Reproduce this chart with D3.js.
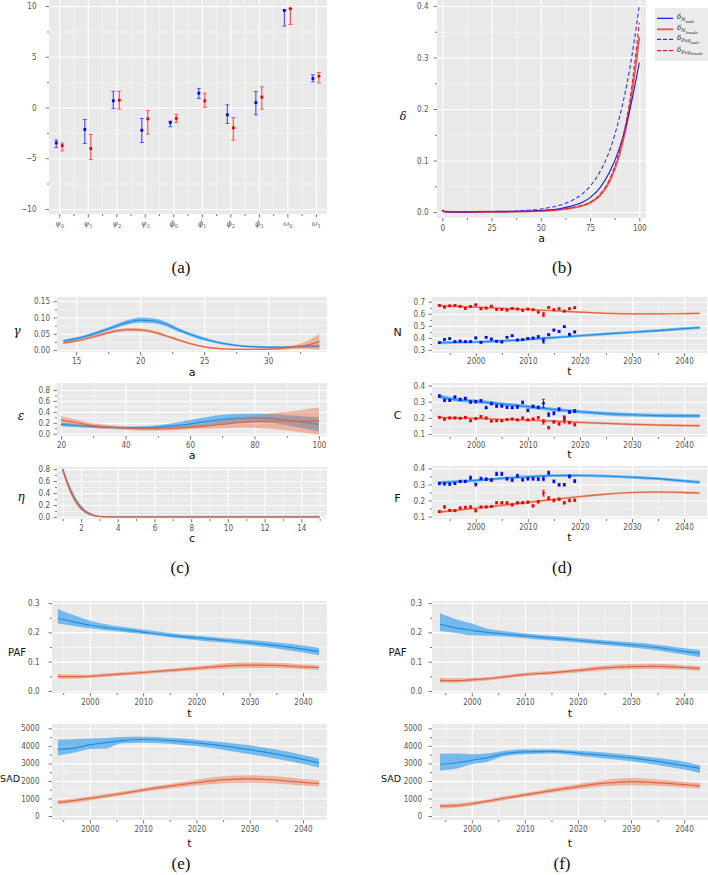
<!DOCTYPE html>
<html><head><meta charset="utf-8">
<script src="https://cdn.jsdelivr.net/npm/d3@7"></script>
<style>body{margin:0;background:#fff;}svg{display:block;font-family:"DejaVu Sans",sans-serif;}</style>
</head><body><svg id="c" width="708" height="875"></svg>
<script>
// ---------- (a) parameter estimates ----------
const aLetters = ['ψ','ψ','ψ','ψ','ϕ','ϕ','ϕ','ϕ','ω','ω'];
const aSubs    = ['0','1','2','3','0','1','2','3','0','1'];
const aBlueMean = [-3.49,-2.17,0.66,-2.24,-1.48,1.41,-0.72,0.49,9.57,2.86];
const aBlueLo   = [-3.95,-3.55,-0.10,-3.45,-1.90,0.89,-1.58,-0.72,8.03,2.53];
const aBlueHi   = [-3.20,-1.18,1.60,-1.09,-1.35,1.88,0.26,1.58,9.60,3.22];
const aRedMean  = [-3.75,-4.05,0.72,-1.12,-1.08,0.66,-2.00,1.02,9.74,3.09];
const aRedLo    = [-4.28,-5.13,-0.16,-2.63,-1.48,0.03,-3.22,-0.16,8.19,2.43];
const aRedHi    = [-3.50,-2.66,1.60,-0.30,-0.69,1.41,-0.99,2.04,9.74,3.45];

// ---------- (b) death rates ----------
const bAges = [0,1,5,10,15,20,25,30,35,40,45,50,55,60,65,70,75,80,85,90,95,100];
const bNmale   = [0.003,0.0008,0.0003,0.0002,0.0003,0.0005,0.0006,0.0008,0.001,0.0014,0.002,0.003,0.0045,0.007,0.011,0.017,0.028,0.047,0.078,0.125,0.195,0.29];
const bNfemale = [0.004,0.001,0.0002,0.0001,0.0002,0.0003,0.0003,0.0004,0.0006,0.0009,0.0013,0.002,0.003,0.0047,0.0075,0.011,0.018,0.032,0.06,0.112,0.2,0.34];
const bPopMale = [0.003,0.0008,0.0003,0.0003,0.0005,0.0008,0.001,0.0013,0.0018,0.0026,0.0038,0.0058,0.009,0.0135,0.021,0.032,0.05,0.078,0.12,0.185,0.275,0.40];
const bPopFemale=[0.004,0.001,0.0002,0.0001,0.0002,0.0003,0.0004,0.0005,0.0007,0.001,0.0015,0.0022,0.0034,0.0052,0.008,0.012,0.019,0.034,0.064,0.12,0.212,0.368];

// ---------- (c) gamma, epsilon, eta ----------
const gAges = [14,15,16,17,18,19,20,21,22,23,24,25,26,27,28,29,30,31,32,33,34];
const gMale   = [0.028,0.035,0.045,0.058,0.072,0.085,0.092,0.09,0.08,0.062,0.047,0.034,0.024,0.017,0.012,0.01,0.009,0.009,0.01,0.011,0.012];
const gMaleHw = [0.004,0.004,0.005,0.005,0.006,0.007,0.008,0.008,0.007,0.006,0.005,0.005,0.004,0.004,0.003,0.003,0.003,0.003,0.003,0.004,0.005];
const gFemale = [0.022,0.028,0.037,0.048,0.058,0.063,0.062,0.056,0.044,0.031,0.019,0.01,0.005,0.003,0.002,0.002,0.003,0.005,0.009,0.015,0.026];
const gFemaleHw=[0.004,0.004,0.004,0.005,0.005,0.005,0.005,0.005,0.004,0.004,0.003,0.003,0.002,0.002,0.002,0.002,0.003,0.004,0.006,0.012,0.025];
const eAges = [20,25,30,35,40,45,50,55,60,65,70,75,80,85,90,95,100];
const eMale   = [0.17,0.15,0.13,0.115,0.11,0.11,0.12,0.145,0.18,0.22,0.26,0.28,0.29,0.28,0.25,0.21,0.17];
const eMaleHw = [0.035,0.03,0.025,0.022,0.02,0.025,0.035,0.05,0.07,0.08,0.085,0.08,0.075,0.08,0.09,0.11,0.13];
const eFemale = [0.25,0.2,0.15,0.12,0.1,0.09,0.09,0.1,0.12,0.14,0.17,0.2,0.22,0.23,0.23,0.23,0.23];
const eFemaleHw=[0.07,0.055,0.04,0.035,0.03,0.03,0.03,0.035,0.04,0.05,0.07,0.09,0.11,0.14,0.17,0.21,0.25];
const hC = [1,1.25,1.5,1.75,2,2.25,2.5,2.75,3,3.5,4,6,8,10,12,14,15];
const hMale   = [0.8,0.58,0.4,0.26,0.16,0.09,0.05,0.022,0.008,0.002,0,0,0,0,0,0,0];
const hFemale = [0.79,0.56,0.38,0.24,0.145,0.08,0.042,0.018,0.006,0.001,0,0,0,0,0,0,0];
const hHw     = [0.04,0.045,0.045,0.04,0.035,0.025,0.018,0.01,0.005,0.002,0.001,0.001,0.001,0.001,0.001,0.001,0.001];

// ---------- (d) N, C, F ----------
const dYears = [1993,1994,1995,1996,1997,1998,1999,2000,2001,2002,2003,2004,2005,2006,2007,2008,2009,2010,2011,2012,2013,2014,2015,2016,2017,2018,2019];
const dNblue = [0.36,0.388,0.394,0.369,0.374,0.369,0.369,0.40,0.363,0.405,0.391,0.372,0.366,0.405,0.418,0.383,0.385,0.396,0.399,0.41,0.377,0.427,0.465,0.454,0.493,0.43,0.449];
const dNred  = [0.669,0.655,0.666,0.669,0.661,0.644,0.661,0.674,0.641,0.647,0.663,0.636,0.636,0.63,0.644,0.639,0.628,0.639,0.633,0.614,0.594,0.652,0.633,0.641,0.622,0.641,0.65];
const dCblue = [0.335,0.308,0.308,0.329,0.314,0.321,0.298,0.30,0.306,0.263,0.288,0.273,0.273,0.265,0.263,0.267,0.296,0.246,0.271,0.265,0.29,0.22,0.228,0.253,0.20,0.236,0.242];
const dCred  = [0.203,0.191,0.199,0.199,0.197,0.203,0.182,0.195,0.207,0.199,0.18,0.182,0.182,0.189,0.193,0.187,0.199,0.187,0.193,0.201,0.176,0.139,0.174,0.162,0.187,0.17,0.157];
const dFblue = [0.306,0.304,0.302,0.306,0.319,0.319,0.342,0.30,0.337,0.333,0.327,0.366,0.366,0.335,0.327,0.354,0.329,0.335,0.335,0.333,0.335,0.373,0.319,0.298,0.298,0.35,0.321];
const dFred  = [0.131,0.16,0.139,0.137,0.154,0.158,0.16,0.137,0.16,0.16,0.163,0.186,0.186,0.186,0.173,0.186,0.186,0.19,0.167,0.192,0.246,0.214,0.2,0.208,0.186,0.20,0.202];
const dErrNblue = [.006,.007,.007,.006,.006,.006,.006,.007,.006,.007,.007,.006,.006,.007,.007,.007,.007,.007,.007,.008,.02,.008,.008,.008,.007,.008,.008];
const dErrNred  = [.007,.007,.006,.006,.006,.006,.006,.007,.006,.007,.007,.006,.006,.006,.007,.007,.007,.007,.007,.008,.018,.008,.008,.008,.007,.008,.008];
const dErrCblue = [.008,.008,.007,.007,.008,.007,.008,.008,.008,.008,.008,.008,.007,.007,.007,.008,.008,.008,.008,.008,.025,.012,.01,.01,.012,.009,.009];
const dErrCred  = [.006,.006,.006,.006,.006,.006,.006,.006,.007,.006,.006,.006,.006,.006,.006,.006,.006,.006,.006,.007,.015,.008,.007,.008,.02,.008,.008];
const dErrFblue = [.008,.008,.007,.007,.007,.007,.01,.009,.008,.008,.008,.01,.01,.008,.008,.009,.008,.008,.008,.008,.012,.01,.009,.008,.008,.009,.009];
const dErrFred  = [.006,.008,.006,.006,.006,.006,.007,.008,.006,.006,.006,.007,.007,.007,.007,.007,.007,.007,.007,.008,.018,.01,.008,.008,.008,.008,.008];
const dFitYears = [1993,1995,2000,2005,2010,2015,2020,2025,2030,2035,2040,2043];
const dFitNblue = [0.36,0.362,0.366,0.375,0.388,0.402,0.418,0.433,0.447,0.46,0.477,0.485];
const dFitNred  = [0.666,0.663,0.655,0.645,0.636,0.625,0.613,0.604,0.60,0.599,0.601,0.603];
const dFitCblue = [0.335,0.318,0.302,0.286,0.269,0.252,0.238,0.226,0.219,0.214,0.212,0.212];
const dFitCred  = [0.202,0.20,0.196,0.191,0.186,0.18,0.172,0.165,0.159,0.155,0.152,0.151];
const dFitFblue = [0.31,0.315,0.325,0.338,0.348,0.355,0.356,0.352,0.345,0.336,0.322,0.314];
const dFitFred  = [0.128,0.135,0.152,0.17,0.188,0.207,0.225,0.24,0.25,0.253,0.25,0.247];
const dFitBlueHw = [0.013,0.012,0.011,0.011,0.011,0.011,0.011,0.011,0.011,0.011,0.012,0.012];
const dFitRedHw  = [0.008,0.008,0.007,0.007,0.007,0.007,0.007,0.007,0.007,0.007,0.008,0.008];

// ---------- (e), (f) PAF and SAD ----------
const pYears = [1994,1997,2000,2003,2006,2010,2015,2020,2025,2030,2035,2040,2043];
const ePAFblue   = [0.248,0.236,0.225,0.216,0.21,0.201,0.19,0.181,0.173,0.165,0.155,0.143,0.135];
const ePAFblueLo = [0.23,0.222,0.214,0.207,0.202,0.194,0.183,0.173,0.165,0.156,0.145,0.131,0.122];
const ePAFblueHi = [0.28,0.258,0.24,0.228,0.219,0.21,0.198,0.189,0.181,0.174,0.165,0.155,0.147];
const ePAFred    = [0.05,0.049,0.05,0.054,0.058,0.063,0.07,0.077,0.085,0.088,0.087,0.082,0.08];
const ePAFredLo  = [0.042,0.042,0.044,0.048,0.052,0.057,0.064,0.07,0.076,0.078,0.078,0.074,0.072];
const ePAFredHi  = [0.058,0.056,0.056,0.06,0.064,0.069,0.076,0.084,0.094,0.098,0.096,0.09,0.088];
const eSADblue   = [3800,3870,4050,4180,4300,4360,4300,4170,4000,3780,3530,3230,3030];
const eSADblueLo = [3450,3600,3820,3850,4150,4180,4120,3970,3780,3520,3260,2960,2750];
const eSADblueHi = [4350,4380,4420,4440,4500,4520,4460,4350,4200,4030,3790,3480,3270];
const eSADred    = [780,880,1000,1140,1280,1480,1700,1900,2060,2120,2050,1920,1850];
const eSADredLo  = [650,760,890,1030,1170,1370,1570,1740,1870,1900,1850,1740,1680];
const eSADredHi  = [900,1000,1110,1250,1390,1600,1830,2070,2260,2330,2260,2110,2040];
const fPAFblue   = [0.228,0.215,0.207,0.2,0.195,0.188,0.18,0.173,0.165,0.157,0.148,0.135,0.128];
const fPAFblueLo = [0.205,0.198,0.19,0.188,0.186,0.18,0.172,0.165,0.157,0.148,0.138,0.124,0.115];
const fPAFblueHi = [0.265,0.245,0.23,0.212,0.205,0.197,0.188,0.181,0.173,0.166,0.158,0.146,0.14];
const fPAFred    = [0.036,0.035,0.038,0.042,0.048,0.056,0.062,0.07,0.079,0.083,0.084,0.08,0.077];
const fPAFredLo  = [0.028,0.028,0.031,0.036,0.042,0.05,0.056,0.063,0.071,0.074,0.075,0.072,0.069];
const fPAFredHi  = [0.045,0.043,0.045,0.048,0.054,0.062,0.068,0.077,0.087,0.092,0.093,0.088,0.085];
const fSADblue   = [2950,3020,3180,3330,3540,3660,3690,3590,3450,3310,3110,2870,2720];
const fSADblueLo = [2600,2700,2950,3100,3400,3520,3560,3440,3280,3120,2910,2650,2450];
const fSADblueHi = [3550,3560,3520,3560,3700,3800,3800,3720,3620,3480,3300,3090,2900];
const fSADred    = [560,590,700,850,1010,1200,1450,1680,1870,1960,1900,1790,1720];
const fSADredLo  = [430,470,590,740,900,1090,1320,1530,1700,1760,1720,1630,1570];
const fSADredHi  = [680,710,810,960,1120,1310,1580,1830,2040,2160,2080,1950,1880];

// ---------- tick values ----------
const tYearMaj = [2000,2010,2020,2030,2040], tYearMin = [1995,2005,2015,2025,2035];

// ---------- drawing ----------
const BG = '#E9E9E9', TK = '#555';
const BL = '#1f8fe5', BF = 'rgba(45,155,235,0.62)', RL = '#e2643f', RF = 'rgba(232,112,72,0.45)';
const TICKFONT = '"DejaVu Sans Condensed", "DejaVu Sans", sans-serif';
const svg = d3.select('#c');
let cid = 0;

function styleAxis(s, fs) {
  s.select('.domain').remove();
  s.selectAll('.tick line').attr('stroke', TK).attr('stroke-width', 0.8);
  s.selectAll('.tick text').attr('fill', TK).attr('font-size', fs || 8).attr('font-family', TICKFONT).attr('font-stretch', 'condensed');
}

function panel(b, xd, yd, o) {
  const x = d3.scaleLinear().domain(xd).range([b.x0, b.x1]);
  const y = d3.scaleLinear().domain(yd).range([b.y1, b.y0]);
  const W = b.x1 - b.x0, H = b.y1 - b.y0;
  const g = svg.append('g');
  g.append('rect').attr('x', b.x0).attr('y', b.y0).attr('width', W).attr('height', H).attr('fill', BG);
  const grid = (axis, tr, w, op) => g.append('g').attr('transform', tr).call(axis).call(s => {
    s.select('.domain').remove();
    s.selectAll('.tick line').attr('stroke', '#fff').attr('stroke-width', w).attr('stroke-opacity', op);
  });
  grid(d3.axisBottom(x).tickValues(o.xmin).tickSize(-H).tickFormat(''), `translate(0,${b.y1})`, 0.6, 0.75);
  grid(d3.axisLeft(y).tickValues(o.ymin).tickSize(-W).tickFormat(''), `translate(${b.x0},0)`, 0.6, 0.75);
  grid(d3.axisBottom(x).tickValues(o.xmaj).tickSize(-H).tickFormat(''), `translate(0,${b.y1})`, 1.1, 1);
  grid(d3.axisLeft(y).tickValues(o.ymaj).tickSize(-W).tickFormat(''), `translate(${b.x0},0)`, 1.1, 1);
  g.append('g').attr('transform', `translate(0,${b.y1})`).call(d3.axisBottom(x).tickValues(o.xmin).tickSize(2).tickFormat('')).call(s => styleAxis(s));
  g.append('g').attr('transform', `translate(${b.x0},0)`).call(d3.axisLeft(y).tickValues(o.ymin).tickSize(2).tickFormat('')).call(s => styleAxis(s));
  const xa = g.append('g').attr('transform', `translate(0,${b.y1})`)
    .call(d3.axisBottom(x).tickValues(o.xmaj).tickSize(3.5).tickPadding(o.xpad ?? 2.8).tickFormat(o.xf)).call(s => styleAxis(s));
  g.append('g').attr('transform', `translate(${b.x0},0)`)
    .call(d3.axisLeft(y).tickValues(o.ymaj).tickSize(3.5).tickPadding(o.ypad ?? 3.5).tickFormat(o.yf)).call(s => styleAxis(s));
  const id = 'clip' + (cid++);
  svg.append('clipPath').attr('id', id).append('rect').attr('x', b.x0).attr('y', b.y0).attr('width', W).attr('height', H);
  const pg = svg.append('g').attr('clip-path', `url(#${id})`);
  return { x, y, g, pg, xa, b };
}

function label(txt, x, y, o = {}) {
  svg.append('text').attr('x', x).attr('y', y).attr('text-anchor', 'middle')
    .attr('font-size', o.fs || 10).attr('fill', o.fill || '#111')
    .attr('font-family', o.ff || '"DejaVu Sans", sans-serif')
    .attr('font-style', o.it ? 'italic' : 'normal').text(txt);
}

function band(p, xs, lo, hi, fill) {
  const area = d3.area().x((d, i) => p.x(xs[i])).y0((d, i) => p.y(lo[i])).y1((d, i) => p.y(hi[i])).curve(d3.curveMonotoneX);
  p.pg.append('path').datum(xs).attr('d', area).attr('fill', fill).attr('stroke', 'none');
}
function line(p, xs, ys, stroke, w, dash) {
  const ln = d3.line().x((d, i) => p.x(xs[i])).y((d, i) => p.y(ys[i])).curve(d3.curveMonotoneX);
  p.pg.append('path').datum(xs).attr('d', ln).attr('fill', 'none').attr('stroke', stroke)
    .attr('stroke-width', w || 1.2).attr('stroke-dasharray', dash || null);
}
function bandHw(p, xs, m, hw, fill, stroke) {
  band(p, xs, m.map((v, i) => v - hw[i]), m.map((v, i) => v + hw[i]), fill);
  line(p, xs, m, stroke, 1.2);
}
function errPoints(p, xs, ys, es, color, cap) {
  const g = p.pg.append('g');
  xs.forEach((xv, i) => {
    const cx = p.x(xv);
    const y0 = p.y(ys[i] - es[i]), y1 = p.y(ys[i] + es[i]);
    g.append('line').attr('x1', cx).attr('x2', cx).attr('y1', y0).attr('y2', y1).attr('stroke', color).attr('stroke-width', 0.9);
    g.append('line').attr('x1', cx - cap).attr('x2', cx + cap).attr('y1', y0).attr('y2', y0).attr('stroke', color).attr('stroke-width', 0.7);
    g.append('line').attr('x1', cx - cap).attr('x2', cx + cap).attr('y1', y1).attr('y2', y1).attr('stroke', color).attr('stroke-width', 0.7);
    g.append('rect').attr('x', cx - 1.3).attr('y', p.y(ys[i]) - 1.3).attr('width', 2.6).attr('height', 2.6).attr('fill', color);
  });
}

// ===== (a) =====
{
  const idx = d3.range(aLetters.length);
  const p = panel({ x0: 49, x1: 327, y0: 0, y1: 214 }, [-0.36, 9.39], [-10.5, 10.6], {
    xmaj: idx, xmin: idx.slice(0, 9).map(i => i + 0.5),
    ymaj: [-10, -5, 0, 5, 10], ymin: [-7.5, -2.5, 2.5, 7.5],
    xf: () => '', yf: d3.format('d'), ypad: 9
  });
  p.xa.selectAll('.tick text').each(function (d) {
    const t = d3.select(this).attr('font-size', 8).attr('font-style', 'italic').attr('font-family', '"DejaVu Serif", serif').attr('fill', TK);
    t.text(aLetters[d]);
    t.append('tspan').attr('dy', 2.5).attr('font-size', 5.5).attr('font-style', 'normal').text(aSubs[d]);
  });
  const g = p.pg.append('g');
  const drawSet = (mean, lo, hi, off, col, barCol) => {
    idx.forEach(i => {
      const cx = p.x(i + off);
      g.append('line').attr('x1', cx).attr('x2', cx).attr('y1', p.y(lo[i])).attr('y2', p.y(hi[i])).attr('stroke', barCol).attr('stroke-width', 1.1);
      [lo[i], hi[i]].forEach(v => g.append('line').attr('x1', cx - 2).attr('x2', cx + 2).attr('y1', p.y(v)).attr('y2', p.y(v)).attr('stroke', barCol).attr('stroke-width', 0.9));
      g.append('rect').attr('x', cx - 1.4).attr('y', p.y(mean[i]) - 1.4).attr('width', 2.8).attr('height', 2.8).attr('fill', col);
    });
  };
  drawSet(aBlueMean, aBlueLo, aBlueHi, -0.105, '#0000ee', '#4a4af0');
  drawSet(aRedMean, aRedLo, aRedHi, 0.105, '#ee0000', '#f05050');
}

// ===== (b) =====
{
  const p = panel({ x0: 437, x1: 646, y0: 0, y1: 218 }, [-2.7, 103.4], [-0.0116, 0.4116], {
    xmaj: [0, 25, 50, 75, 100], xmin: [12.5, 37.5, 62.5, 87.5],
    ymaj: [0, 0.1, 0.2, 0.3, 0.4], ymin: [0.05, 0.15, 0.25, 0.35],
    xf: d3.format('d'), yf: d3.format('.1f'), ypad: 5, xpad: 3.5
  });
  line(p, bAges, bNfemale, '#e06060', 2);
  line(p, bAges, bNmale, '#1515f0', 1.1);
  line(p, bAges, bPopMale, '#3030ff', 1.1, '4,2.5');
  line(p, bAges, bPopFemale, '#ff1515', 1.1, '4,2.5');
  label('a', 541.5, 242, { fs: 11 });
  label('δ', 403, 120, { fs: 11, it: true, ff: '"DejaVu Serif", serif' });
  // legend
  const lg = svg.append('g');
  lg.append('rect').attr('x', 655).attr('y', 8).attr('width', 53).attr('height', 53).attr('fill', '#EBEBEB');
  const ents = [['N', 'male', '#1515f0', 1.2, null], ['N', 'female', '#e06060', 2, null], ['Pop', 'male', '#3030ff', 1.2, '4,2'], ['Pop', 'female', '#ff1515', 1.2, '4,2']];
  const ly = [18.3, 29.3, 39.3, 50.7];
  ents.forEach((e, i) => {
    lg.append('line').attr('x1', 657).attr('x2', 673).attr('y1', ly[i]).attr('y2', ly[i]).attr('stroke', e[2]).attr('stroke-width', e[3]).attr('stroke-dasharray', e[4]);
    const t = lg.append('text').attr('x', 677).attr('y', ly[i] + 1).attr('font-size', 7).attr('fill', '#222')
      .attr('font-family', '"DejaVu Serif", serif').attr('font-style', 'italic').text('δ');
    t.append('tspan').attr('dy', 2).attr('font-size', 5).text(e[0]);
    t.append('tspan').attr('dy', 1.5).attr('font-size', 3.6).attr('font-style', 'normal').text(e[1]);
  });
}

// ===== (c) =====
{
  const p1 = panel({ x0: 57, x1: 327, y0: 297, y1: 352 }, [13.5, 34.6], [-0.006, 0.163], {
    xmaj: [15, 20, 25, 30], xmin: [17.5, 22.5, 27.5, 32.5],
    ymaj: [0, 0.05, 0.1, 0.15], ymin: [0.025, 0.075, 0.125],
    xf: d3.format('d'), yf: d3.format('.2f')
  });
  bandHw(p1, gAges, gMale, gMaleHw, BF, BL);
  bandHw(p1, gAges, gFemale, gFemaleHw, RF, RL);
  label('a', 192, 376, { fs: 11 });
  label('γ', 17, 335, { fs: 12, it: true, ff: '"DejaVu Serif", serif' });

  const p2 = panel({ x0: 57, x1: 327, y0: 383, y1: 436 }, [18.75, 102.5], [-0.042, 0.928], {
    xmaj: [20, 40, 60, 80, 100], xmin: [30, 50, 70, 90],
    ymaj: [0, 0.2, 0.4, 0.6, 0.8], ymin: [0.1, 0.3, 0.5, 0.7],
    xf: d3.format('d'), yf: d3.format('.1f')
  });
  bandHw(p2, eAges, eMale, eMaleHw, BF, BL);
  bandHw(p2, eAges, eFemale, eFemaleHw, RF, RL);
  label('a', 192, 459, { fs: 11 });
  label('ε', 21, 420, { fs: 12, it: true, ff: '"DejaVu Serif", serif' });

  const p3 = panel({ x0: 57, x1: 327, y0: 467, y1: 519 }, [0.69, 15.4], [-0.035, 0.835], {
    xmaj: [2, 4, 6, 8, 10, 12, 14], xmin: [1, 3, 5, 7, 9, 11, 13, 15],
    ymaj: [0, 0.2, 0.4, 0.6, 0.8], ymin: [0.1, 0.3, 0.5, 0.7],
    xf: d3.format('d'), yf: d3.format('.1f')
  });
  bandHw(p3, hC, hMale, hHw, BF, BL);
  bandHw(p3, hC, hFemale, hHw, RF, RL);
  label('c', 192, 542, { fs: 11 });
  label('η', 21, 501, { fs: 12, it: true, ff: '"DejaVu Serif", serif' });
  label('(c)', 180, 573, { fs: 17, ff: '"Liberation Serif", serif' });
}

// ===== (d) =====
{
  const xd = [1991.6, 2044.4];
  const mk = (b, yd, ymaj, ymin) => panel(b, xd, yd, { xmaj: tYearMaj, xmin: tYearMin, ymaj, ymin, xf: d3.format('d'), yf: d3.format('.1f'), xpad: 1.5 });
  const pN = mk({ x0: 432, x1: 707, y0: 297, y1: 353 }, [0.275, 0.739], [0.3, 0.4, 0.5, 0.6, 0.7], [0.35, 0.45, 0.55, 0.65]);
  bandHw(pN, dFitYears, dFitNblue, dFitBlueHw, BF, BL);
  bandHw(pN, dFitYears, dFitNred, dFitRedHw, RF, RL);
  errPoints(pN, dYears, dNblue, dErrNblue, '#0000ee', 1.5);
  errPoints(pN, dYears, dNred, dErrNred, '#ee0000', 1.5);
  label('t', 569.5, 374.5, { fs: 11 });
  label('N', 397.5, 336, { fs: 11 });

  const pC = mk({ x0: 432, x1: 707, y0: 383, y1: 437 }, [0.081, 0.416], [0.1, 0.2, 0.3, 0.4], [0.15, 0.25, 0.35]);
  bandHw(pC, dFitYears, dFitCblue, dFitBlueHw, BF, BL);
  bandHw(pC, dFitYears, dFitCred, dFitRedHw, RF, RL);
  errPoints(pC, dYears, dCblue, dErrCblue, '#0000ee', 1.5);
  errPoints(pC, dYears, dCred, dErrCred, '#ee0000', 1.5);
  label('t', 569.5, 458, { fs: 11 });
  label('C', 397.5, 419, { fs: 11 });

  const pF = mk({ x0: 432, x1: 707, y0: 466, y1: 519 }, [0.085, 0.415], [0.1, 0.2, 0.3, 0.4], [0.15, 0.25, 0.35]);
  bandHw(pF, dFitYears, dFitFblue, dFitBlueHw.map(v => v * 0.8), BF, BL);
  bandHw(pF, dFitYears, dFitFred, dFitRedHw, RF, RL);
  errPoints(pF, dYears, dFblue, dErrFblue, '#0000ee', 1.5);
  errPoints(pF, dYears, dFred, dErrFred, '#ee0000', 1.5);
  label('t', 569.5, 541, { fs: 11 });
  label('F', 397.5, 502, { fs: 11 });
  label('(d)', 562, 573, { fs: 17, ff: '"Liberation Serif", serif' });
}

// ===== (e) & (f) =====
function pafSad(x0, x1, xd, ypad, ylabX, sadX, pafB, pafBLo, pafBHi, pafR, pafRLo, pafRHi, sB, sBLo, sBHi, sR, sRLo, sRHi, cap, capX) {
  const p1 = panel({ x0, x1, y0: 601, y1: 693 }, xd, [-0.007, 0.307], {
    xmaj: tYearMaj, xmin: tYearMin, ymaj: [0, 0.1, 0.2, 0.3], ymin: [0.05, 0.15, 0.25],
    xf: d3.format('d'), yf: d3.format('.1f'), ypad
  });
  band(p1, pYears, pafBLo, pafBHi, BF); line(p1, pYears, pafB, BL, 1.2);
  band(p1, pYears, pafRLo, pafRHi, RF); line(p1, pYears, pafR, RL, 1.2);
  label('t', (x0 + x1) / 2, 717, { fs: 11 });
  label('PAF', ylabX, 656, { fs: 10 });
  const p2 = panel({ x0, x1, y0: 724, y1: 820 }, xd, [-228, 5245], {
    xmaj: tYearMaj, xmin: tYearMin, ymaj: [0, 1000, 2000, 3000, 4000, 5000], ymin: [500, 1500, 2500, 3500, 4500],
    xf: d3.format('d'), yf: d3.format('d'), ypad
  });
  band(p2, pYears, sBLo, sBHi, BF); line(p2, pYears, sB, BL, 1.2);
  band(p2, pYears, sRLo, sRHi, RF); line(p2, pYears, sR, RL, 1.2);
  label('t', (x0 + x1) / 2, 847, { fs: 11 });
  label('SAD', sadX, 782, { fs: 9.5 });
  label(cap, capX, 869, { fs: 17, ff: '"Liberation Serif", serif' });
}
pafSad(52, 327, [1992.9, 2044.5], 9, 17, 10, 
  ePAFblue, ePAFblueLo, ePAFblueHi, ePAFred, ePAFredLo, ePAFredHi,
  eSADblue, eSADblueLo, eSADblueHi, eSADred, eSADredLo, eSADredHi, '(e)', 181);
pafSad(432, 708, [1992.5, 2044.5], 6.5, 397.5, 391,
  fPAFblue, fPAFblueLo, fPAFblueHi, fPAFred, fPAFredLo, fPAFredHi,
  fSADblue, fSADblueLo, fSADblueHi, fSADred, fSADredLo, fSADredHi, '(f)', 562);

label('(a)', 181, 273, { fs: 17, ff: '"Liberation Serif", serif' });
label('(b)', 562, 273, { fs: 17, ff: '"Liberation Serif", serif' });
</script></body></html>
